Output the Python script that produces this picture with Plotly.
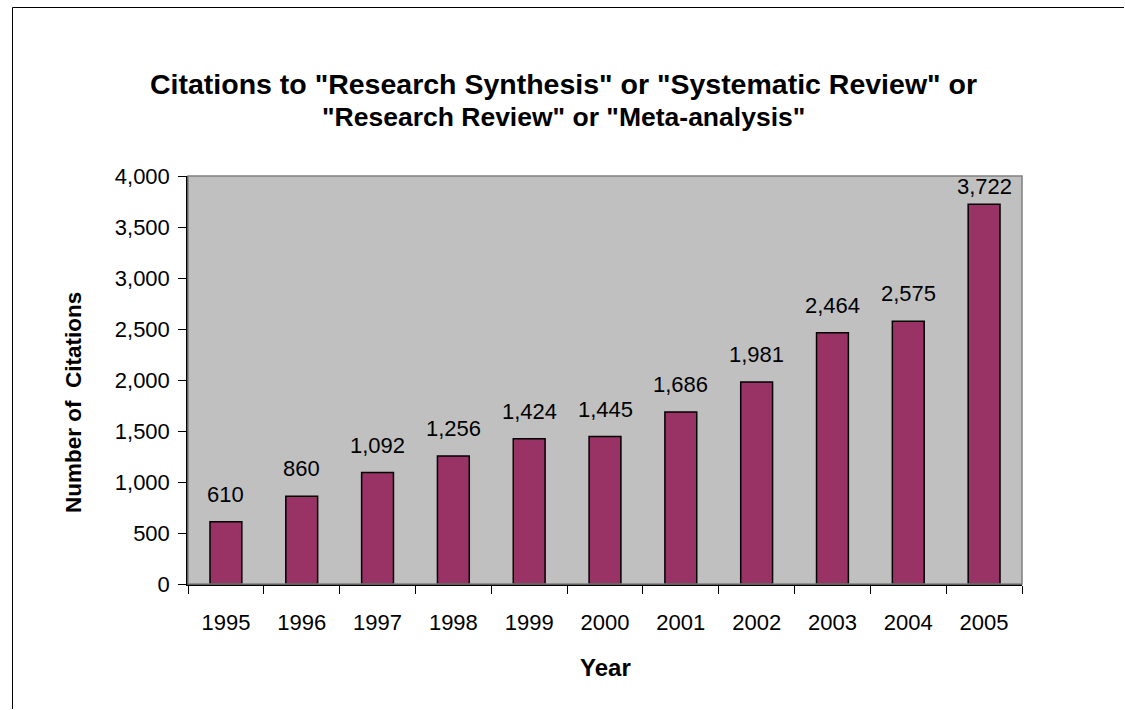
import plotly.graph_objects as go

years = ["1995", "1996", "1997", "1998", "1999", "2000", "2001", "2002", "2003", "2004", "2005"]
citations = [610, 860, 1092, 1256, 1424, 1445, 1686, 1981, 2464, 2575, 3722]
title_lines = ['Citations to "Research Synthesis" or "Systematic Review" or',
               '"Research Review" or "Meta-analysis"']
x_title = "Year"
y_title = "Number of  Citations"
y_max = 4000

FONT = "Liberation Sans, Arial, sans-serif"
W, H = 1125, 710
L, R, T, B = 188, 1022, 176, 584
pw, ph = R - L, B - T

def px_x(x):
    return (x - L) / pw

def px_y(y):
    return (B - y) / ph

fig = go.Figure()
fig.add_trace(go.Bar(
    x=years, y=citations,
    width=0.42,
    marker=dict(color="#993366", line=dict(color="black", width=1.5)),
    hoverinfo="x+y",
))

annotations = []
label_px = 22
for i, v in enumerate(citations):
    # label sits above bar; if it would leave the plot area, keep it inside (as Excel does)
    bar_top_px = ph * v / y_max
    if bar_top_px + 13 + label_px * 1.2 > ph:
        ann = dict(x=i, y=y_max, yanchor="top", yshift=4)
    else:
        ann = dict(x=i, y=v, yanchor="bottom", yshift=13)
    ann.update(xref="x", yref="y", text=f"{v:,}", showarrow=False, xanchor="center",
               font=dict(family=FONT, size=label_px, color="black"))
    annotations.append(ann)

for line, cy, fs in zip(title_lines, [84, 117], [28.5, 26.5]):
    annotations.append(dict(
        x=px_x(563), y=px_y(cy), xref="paper", yref="paper", text=line,
        showarrow=False, xanchor="center", yanchor="middle",
        font=dict(family=FONT, size=fs, color="black", weight="bold"),
    ))
annotations.append(dict(
    x=0.5, y=px_y(667), xref="paper", yref="paper", text=x_title,
    showarrow=False, xanchor="center", yanchor="middle",
    font=dict(family=FONT, size=24, color="black", weight="bold"),
))
annotations.append(dict(
    x=px_x(73), y=px_y(403), xref="paper", yref="paper", text=y_title,
    showarrow=False, xanchor="center", yanchor="middle", textangle=-90,
    font=dict(family=FONT, size=22.5, color="black", weight="bold"),
))

shapes = [
    dict(type="rect", xref="paper", yref="paper", x0=0, y0=0, x1=1, y1=1,
         line=dict(color="#808080", width=1.5), layer="above"),
    dict(type="line", xref="paper", yref="paper",
         x0=px_x(12.5), y0=px_y(709), x1=px_x(12.5), y1=px_y(7.5),
         line=dict(color="black", width=1)),
    dict(type="line", xref="paper", yref="paper",
         x0=px_x(12.5), y0=px_y(7.5), x1=px_x(1124), y1=px_y(7.5),
         line=dict(color="black", width=1)),
]

fig.update_layout(
    width=W, height=H,
    margin=dict(l=L, r=W - R, t=T, b=H - B, pad=0),
    paper_bgcolor="white", plot_bgcolor="#C0C0C0",
    showlegend=False,
    annotations=annotations,
    shapes=shapes,
    font=dict(family=FONT, color="black"),
    xaxis=dict(
        type="category", tickson="boundaries", ticks="outside", ticklen=8,
        tickcolor="black", tickwidth=1, showline=True, linecolor="black", linewidth=1.5,
        showgrid=False, tickfont=dict(family=FONT, size=22, color="black"),
        ticklabelstandoff=18, range=[-0.5, 10.5],
    ),
    yaxis=dict(
        range=[0, y_max], dtick=500, tickformat=",d", ticks="outside", ticklen=8,
        tickcolor="black", tickwidth=1, showline=True, linecolor="black", linewidth=1.5,
        showgrid=False, zeroline=False, tickfont=dict(family=FONT, size=22, color="black"),
        ticklabelstandoff=4,
    ),
)

fig.write_html("out.html", config={"displayModeBar": False})
